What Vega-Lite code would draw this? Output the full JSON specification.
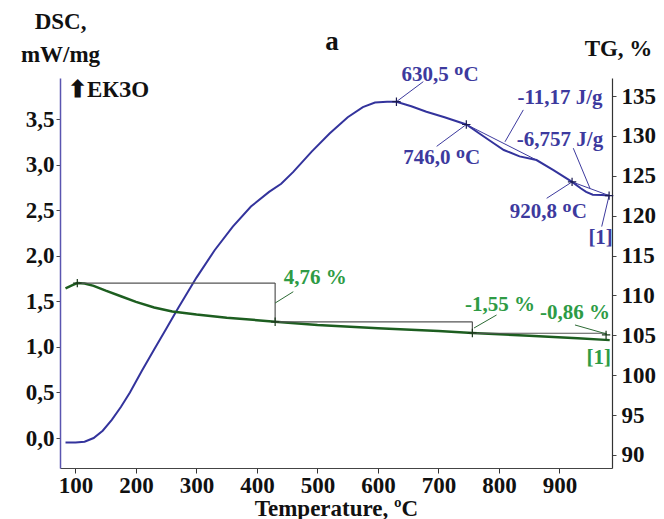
{
  "$schema": "https://vega.github.io/schema/vega-lite/v6.json",
  "width": 552,
  "height": 390,
  "autosize": {"type": "none"},
  "padding": {"left": 60, "top": 78, "right": 52, "bottom": 51},
  "background": "white",
  "config": {"view": {"stroke": null}, "font": "Liberation Serif", "axis": {"labelOverlap": false}},
  "datasets": {
    "dsc": [
      {"T": 83.5, "v": -0.05}, {"T": 100, "v": -0.05}, {"T": 115, "v": -0.04}, {"T": 130, "v": 0.0},
      {"T": 145, "v": 0.08}, {"T": 160, "v": 0.2}, {"T": 175, "v": 0.34}, {"T": 190, "v": 0.5},
      {"T": 210, "v": 0.74}, {"T": 230, "v": 0.97}, {"T": 250, "v": 1.2}, {"T": 270, "v": 1.43},
      {"T": 300, "v": 1.76}, {"T": 330, "v": 2.06}, {"T": 360, "v": 2.32}, {"T": 390, "v": 2.54},
      {"T": 420, "v": 2.7}, {"T": 440, "v": 2.79}, {"T": 460, "v": 2.92}, {"T": 490, "v": 3.14},
      {"T": 520, "v": 3.34}, {"T": 550, "v": 3.52}, {"T": 575, "v": 3.63}, {"T": 595, "v": 3.68},
      {"T": 615, "v": 3.69}, {"T": 630.5, "v": 3.69}, {"T": 655, "v": 3.64}, {"T": 680, "v": 3.58},
      {"T": 710, "v": 3.52}, {"T": 746, "v": 3.44}, {"T": 770, "v": 3.33}, {"T": 790, "v": 3.24},
      {"T": 808, "v": 3.16}, {"T": 834, "v": 3.09}, {"T": 862, "v": 3.05}, {"T": 890, "v": 2.94},
      {"T": 920.8, "v": 2.81}, {"T": 935, "v": 2.74}, {"T": 944, "v": 2.7}, {"T": 955, "v": 2.67},
      {"T": 970, "v": 2.665}, {"T": 982, "v": 2.66}
    ],
    "dscLines": [
      {"T": 746, "v": 3.44, "T2": 862, "v2": 3.05},
      {"T": 920.8, "v": 2.81, "T2": 982, "v2": 2.66},
      {"T": 630.5, "v": 3.69, "T2": 674.9, "v2": 3.91},
      {"T": 746, "v": 3.44, "T2": 697, "v2": 3.2},
      {"T": 840.2, "v": 3.6, "T2": 809.9, "v2": 3.25},
      {"T": 922.8, "v": 3.18, "T2": 950.4, "v2": 2.74},
      {"T": 920.8, "v": 2.81, "T2": 878.8, "v2": 2.63},
      {"T": 982, "v": 2.66, "T2": 969.8, "v2": 2.32}
    ],
    "dscMarks": [
      {"T": 630.5, "v": 3.69}, {"T": 746, "v": 3.44}, {"T": 920.8, "v": 2.81}, {"T": 982, "v": 2.66}
    ],
    "dscLabels": [
      {"T": 702.5, "v": 3.98, "label": "630,5 ᴼC"},
      {"T": 705.3, "v": 3.07, "label": "746,0 ᴼC"},
      {"T": 900.8, "v": 3.73, "label": "-11,17 J/g"},
      {"T": 900.8, "v": 3.27, "label": "-6,757 J/g"},
      {"T": 881.5, "v": 2.48, "label": "920,8 ᴼC"},
      {"T": 968, "v": 2.19, "label": "[1]"}
    ],
    "exo": [
      {"T": 87.6, "v": 3.82, "label": "⬆ЕКЗО"}
    ],
    "panel": [
      {"T": 524, "v": 4.345, "label": "a"}
    ],
    "tg": [
      {"T": 83.5, "tg": 110.9}, {"T": 95, "tg": 111.3}, {"T": 103, "tg": 111.55}, {"T": 115, "tg": 111.5},
      {"T": 130, "tg": 111.2}, {"T": 150, "tg": 110.6}, {"T": 175, "tg": 109.9}, {"T": 200, "tg": 109.2},
      {"T": 230, "tg": 108.5}, {"T": 260, "tg": 108.0}, {"T": 300, "tg": 107.6}, {"T": 350, "tg": 107.2},
      {"T": 400, "tg": 106.9}, {"T": 430, "tg": 106.7}, {"T": 500, "tg": 106.3}, {"T": 600, "tg": 105.9},
      {"T": 700, "tg": 105.55}, {"T": 756, "tg": 105.3}, {"T": 850, "tg": 104.95}, {"T": 930, "tg": 104.65},
      {"T": 983, "tg": 104.4}
    ],
    "tgBrackets": [
      {"T": 103, "tg": 111.55, "T2": 430, "tg2": 111.55},
      {"T": 430, "tg": 111.55, "T2": 430, "tg2": 106.7},
      {"T": 430, "tg": 106.7, "T2": 756, "tg2": 106.7},
      {"T": 756, "tg": 106.7, "T2": 756, "tg2": 105.3},
      {"T": 756, "tg": 105.26, "T2": 977, "tg2": 105.26},
      {"T": 977, "tg": 105.26, "T2": 977, "tg2": 105.05}
    ],
    "tgLeaders": [
      {"T": 430, "tg": 109.05, "T2": 460, "tg2": 110.47},
      {"T": 758.7, "tg": 105.92, "T2": 796, "tg2": 107.55},
      {"T": 925.6, "tg": 106.3, "T2": 977.9, "tg2": 105.17}
    ],
    "tgMarks": [
      {"T": 103, "tg": 111.55}, {"T": 430, "tg": 106.7}, {"T": 756, "tg": 105.3}, {"T": 977, "tg": 105.05}
    ],
    "tgLabels": [
      {"T": 496.3, "tg": 112.15, "label": "4,76 %"},
      {"T": 801.6, "tg": 108.8, "label": "-1,55 %"},
      {"T": 925.6, "tg": 107.76, "label": "-0,86 %"},
      {"T": 965, "tg": 102.1, "label": "[1]"}
    ]
  },
  "layer": [
    {
      "layer": [
        {
          "data": {"name": "dsc"},
          "mark": {"type": "line", "color": "#33339c", "strokeWidth": 2},
          "encoding": {
            "x": {"field": "T", "type": "quantitative", "scale": {"domain": [74.4, 986.8], "nice": false, "zero": false},
              "axis": {"orient": "bottom", "values": [100,150,200,250,300,350,400,450,500,550,600,650,700,750,800,850,900,950],
                "labelExpr": "datum.value % 100 == 0 ? datum.value : ''",
                "title": "Temperature, ºC", "titleFont": "Liberation Serif", "titleFontSize": 23, "titleFontWeight": "bold", "titleColor": "#111", "titlePadding": 0,
                "labelFont": "Liberation Serif", "labelFontSize": 23, "labelFontWeight": "bold", "labelColor": "#111", "labelPadding": 1,
                "tickSize": 5, "tickColor": "#333", "domainColor": "#444", "domainWidth": 1.2, "grid": false, "labelFlush": false, "labelOverlap": false}},
            "y": {"field": "v", "type": "quantitative", "scale": {"domain": [-0.329, 3.95], "nice": false, "zero": false},
              "axis": {"orient": "left", "values": [0,0.25,0.5,0.75,1,1.25,1.5,1.75,2,2.25,2.5,2.75,3,3.25,3.5,3.75],
                "labelExpr": "(datum.value * 4) % 2 == 0 ? floor(datum.value) + ',' + ((datum.value * 2) % 2 == 0 ? '0' : '5') : ''",
                "labelFont": "Liberation Serif", "labelFontSize": 23, "labelFontWeight": "bold", "labelColor": "#111", "labelPadding": 2,
                "tickSize": 4, "tickColor": "#444", "domainColor": "#5a55b0", "domainWidth": 1.5, "grid": false, "labelOverlap": false,
                "title": ["DSC,", "mW/mg"], "titleAngle": 0, "titleAlign": "center", "titleBaseline": "top", "titleX": 0, "titleY": -68,
                "titleLineHeight": 33, "titleFont": "Liberation Serif", "titleFontSize": 23, "titleFontWeight": "bold", "titleColor": "#111"}}
          }
        },
        {
          "data": {"name": "dscLines"},
          "mark": {"type": "rule", "color": "#3d3a9e", "strokeWidth": 1},
          "encoding": {
            "x": {"field": "T", "type": "quantitative"},
            "x2": {"field": "T2"},
            "y": {"field": "v", "type": "quantitative"},
            "y2": {"field": "v2"}
          }
        },
        {
          "data": {"name": "dscMarks"},
          "mark": {"type": "point", "shape": "M-1,0L1,0M0,-1L0,1", "size": 70, "filled": false, "strokeWidth": 1.2, "color": "#1a1a50", "opacity": 1},
          "encoding": {
            "x": {"field": "T", "type": "quantitative"},
            "y": {"field": "v", "type": "quantitative"}
          }
        },
        {
          "data": {"name": "dscLabels"},
          "mark": {"type": "text", "font": "Liberation Serif", "fontSize": 21, "fontWeight": "bold", "color": "#3d3a9e", "align": "center", "baseline": "middle"},
          "encoding": {
            "x": {"field": "T", "type": "quantitative"},
            "y": {"field": "v", "type": "quantitative"},
            "text": {"field": "label", "type": "nominal"}
          }
        },
        {
          "data": {"name": "exo"},
          "mark": {"type": "text", "font": "Liberation Serif", "fontSize": 23, "fontWeight": "bold", "color": "#111", "align": "left", "baseline": "middle"},
          "encoding": {
            "x": {"field": "T", "type": "quantitative"},
            "y": {"field": "v", "type": "quantitative"},
            "text": {"field": "label", "type": "nominal"}
          }
        },
        {
          "data": {"name": "panel"},
          "mark": {"type": "text", "font": "Liberation Serif", "fontSize": 27, "fontWeight": "bold", "color": "#111", "align": "center", "baseline": "middle"},
          "encoding": {
            "x": {"field": "T", "type": "quantitative"},
            "y": {"field": "v", "type": "quantitative"},
            "text": {"field": "label", "type": "nominal"}
          }
        }
      ]
    },
    {
      "layer": [
        {
          "data": {"name": "tg"},
          "mark": {"type": "line", "color": "#1d5e20", "strokeWidth": 2.5},
          "encoding": {
            "x": {"field": "T", "type": "quantitative"},
            "y": {"field": "tg", "type": "quantitative", "scale": {"domain": [88.37, 137.26], "nice": false, "zero": false},
              "axis": {"orient": "right", "values": [90,92.5,95,97.5,100,102.5,105,107.5,110,112.5,115,117.5,120,122.5,125,127.5,130,132.5,135],
                "labelExpr": "datum.value % 5 == 0 ? format(datum.value,'d') : ''",
                "labelFont": "Liberation Serif", "labelFontSize": 23, "labelFontWeight": "bold", "labelColor": "#111", "labelPadding": 5,
                "tickSize": 4, "tickColor": "#444", "domainColor": "#333", "domainWidth": 1.2, "grid": false, "labelOverlap": false,
                "title": "TG, %", "titleAngle": 0, "titleAlign": "center", "titleBaseline": "middle", "titleX": 6, "titleY": -30,
                "titleFont": "Liberation Serif", "titleFontSize": 23, "titleFontWeight": "bold", "titleColor": "#111"}}
          }
        },
        {
          "data": {"name": "tgBrackets"},
          "mark": {"type": "rule", "color": "#555", "strokeWidth": 1.2},
          "encoding": {
            "x": {"field": "T", "type": "quantitative"},
            "x2": {"field": "T2"},
            "y": {"field": "tg", "type": "quantitative"},
            "y2": {"field": "tg2"}
          }
        },
        {
          "data": {"name": "tgLeaders"},
          "mark": {"type": "rule", "color": "#2d6b35", "strokeWidth": 1},
          "encoding": {
            "x": {"field": "T", "type": "quantitative"},
            "x2": {"field": "T2"},
            "y": {"field": "tg", "type": "quantitative"},
            "y2": {"field": "tg2"}
          }
        },
        {
          "data": {"name": "tgMarks"},
          "mark": {"type": "point", "shape": "M-1,0L1,0M0,-1L0,1", "size": 70, "filled": false, "strokeWidth": 1.2, "color": "#1a3a1a", "opacity": 1},
          "encoding": {
            "x": {"field": "T", "type": "quantitative"},
            "y": {"field": "tg", "type": "quantitative"}
          }
        },
        {
          "data": {"name": "tgLabels"},
          "mark": {"type": "text", "font": "Liberation Serif", "fontSize": 21, "fontWeight": "bold", "color": "#2e9b45", "align": "center", "baseline": "middle"},
          "encoding": {
            "x": {"field": "T", "type": "quantitative"},
            "y": {"field": "tg", "type": "quantitative"},
            "text": {"field": "label", "type": "nominal"}
          }
        }
      ]
    }
  ],
  "resolve": {"scale": {"y": "independent"}}
}
